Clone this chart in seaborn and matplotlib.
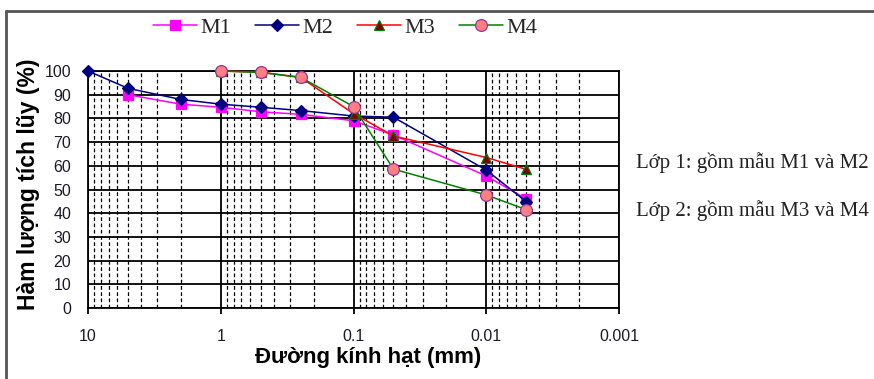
import matplotlib
matplotlib.use("Agg")
import matplotlib.pyplot as plt
import seaborn as sns
import pandas as pd
from matplotlib.lines import Line2D
from matplotlib.ticker import FixedLocator, LogLocator, NullFormatter

sns.set_theme(style="white")
plt.rcParams['font.family'] = ['Liberation Sans', 'DejaVu Sans']

# ---- data ----
x_m1 = [5, 2, 1, 0.5, 0.25, 0.1, 0.05, 0.01, 0.005]
y_m1 = [90, 86, 84.7, 82.8, 81.7, 79, 73, 55.7, 46]
x_m2 = [10, 5, 2, 1, 0.5, 0.25, 0.1, 0.05, 0.01, 0.005]
y_m2 = [100, 92.7, 88, 86, 84.7, 83.3, 81, 80.5, 58.2, 44.9]
x_m3 = [1, 0.5, 0.25, 0.1, 0.05, 0.01, 0.005]
y_m3 = [100, 99.5, 97.3, 82, 72.6, 63.5, 58.5]
x_m4 = [1, 0.5, 0.25, 0.1, 0.05, 0.01, 0.005]
y_m4 = [100, 99.4, 97.3, 85, 58.6, 47.7, 41.5]
series_names = ["M1", "M2", "M3", "M4"]
x_ticks = [10, 1, 0.1, 0.01, 0.001]
x_ticklabels = ["10", "1", "0.1", "0.01", "0.001"]
y_ticks = list(range(0, 101, 10))
x_label = "Đường kính hạt (mm)"
y_label = "Hàm lượng tích lũy (%)"
notes = ["Lớp 1: gồm mẫu M1 và M2", "Lớp 2: gồm mẫu M3 và M4"]

fig = plt.figure(figsize=(8.74, 3.79), dpi=100)
ax = fig.add_axes([88/874, 1-308/379, (619-88)/874, (308-71)/379])

styles = [
    dict(color="#FF00FF", marker="s", markersize=7.5, markerfacecolor="#FF00FF", markeredgecolor="#FF00FF"),
    dict(color="#000080", marker="D", markersize=6, markerfacecolor="#000080", markeredgecolor="#000080"),
    dict(color="#FF0000", marker="^", markersize=7.5, markerfacecolor="#800000", markeredgecolor="#008000"),
    dict(color="#008000", marker="o", markersize=8.5, markerfacecolor="#FF8080", markeredgecolor="#993399"),
]
data = [(x_m1, y_m1), (x_m2, y_m2), (x_m3, y_m3), (x_m4, y_m4)]
handles = []
for name, (xs, ys), st in zip(series_names, data, styles):
    df = pd.DataFrame({"x": xs, "y": ys})
    sns.lineplot(data=df, x="x", y="y", ax=ax, linewidth=1.1, markeredgewidth=0.9,
                 sort=False, zorder=5, clip_on=False, **st)
    handles.append(Line2D([], [], linewidth=1.1, markeredgewidth=0.9, label=name, **st))

ax.set_xscale("log")
ax.set_xlim(10, 0.001)
ax.set_ylim(0, 100)
ax.xaxis.set_major_locator(FixedLocator(x_ticks))
ax.set_xticklabels(x_ticklabels)
ax.xaxis.set_minor_locator(LogLocator(base=10, subs=range(2, 10)))
ax.xaxis.set_minor_formatter(NullFormatter())
ax.set_yticks(y_ticks)
ax.set_yticklabels([str(v) for v in y_ticks])

ax.grid(True, which="major", axis="both", color="black", linewidth=1.3, linestyle="-")
ax.grid(True, which="minor", axis="x", color="black", linewidth=0.9, linestyle=(0, (3, 2)))
for s in ax.spines.values():
    s.set_color("black")
    s.set_linewidth(1.3)

ax.tick_params(axis="x", which="major", direction="out", length=4, width=1.3, color="black",
               labelsize=11.5, pad=11, labelcolor="#1a1a2a", bottom=True)
ax.tick_params(axis="x", which="minor", length=0)
ax.tick_params(axis="y", which="major", direction="out", length=0, width=1, color="black",
               labelsize=11.5, pad=12, labelcolor="#1a1a2a", left=False)

ax.set_xlabel(x_label, fontsize=16, fontweight="bold", color="black")
ax.set_ylabel(y_label, fontsize=16.5, fontweight="bold", color="black")
ax.xaxis.set_label_coords((368-88)/531, (308-357)/237)
ax.yaxis.set_label_coords((29-88)/531, (308-184)/237)
ax.xaxis.label.set_va("center")
ax.yaxis.label.set_va("center")

fig.legend(handles=handles, loc="center", bbox_to_anchor=(345/874, 1-28/379), ncol=4,
           frameon=False, prop={"family": "Liberation Serif", "size": 16},
           handlelength=2.0, handletextpad=0.15, columnspacing=1.05)

fig.text(636/874, 1-163/379, notes[0], family="Liberation Serif", fontsize=15,
         va="center", ha="left", color="#222222")
fig.text(636/874, 1-211/379, notes[1], family="Liberation Serif", fontsize=15,
         va="center", ha="left", color="#222222")

# outer frame lines (top & left)
fig.add_artist(Line2D([6/874, 1], [1-11/379, 1-11/379], color="#555555", linewidth=2))
fig.add_artist(Line2D([6/874, 6/874], [0, 1-11/379], color="#555555", linewidth=2))

fig.savefig("out.png", dpi=100)
